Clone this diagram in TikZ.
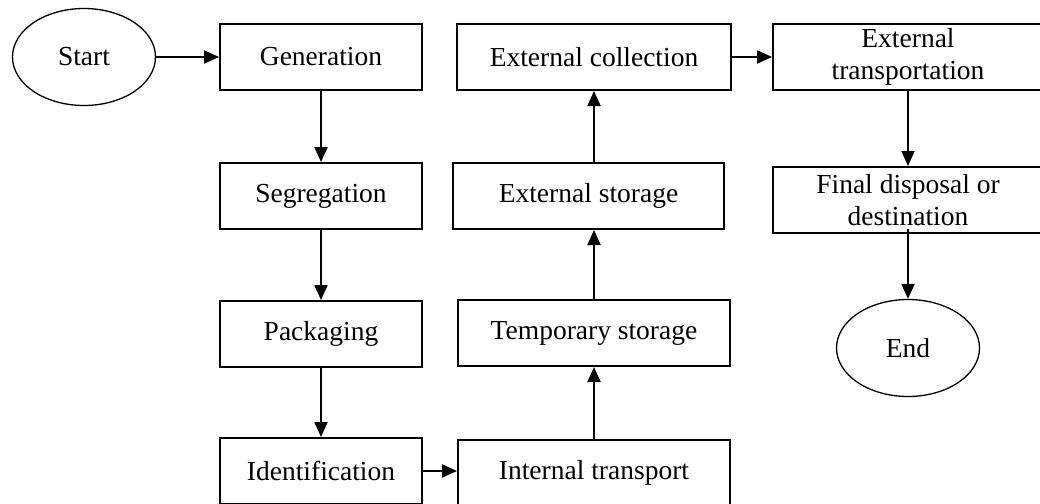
\documentclass[tikz,border=0pt]{standalone}
\usepackage{fontspec}
\setmainfont{Liberation Serif}
\usetikzlibrary{shapes.geometric,arrows.meta}

\begin{document}
\begin{tikzpicture}[x=1pt,y=-1pt,
  stage/.style={rectangle,draw,line width=2pt,minimum height=66pt,inner sep=2pt,align=center,font=\fontsize{27.5}{32}\selectfont},
  terminal/.style={ellipse,draw,line width=1.3pt,minimum width=143pt,minimum height=97pt,inner sep=0pt,font=\fontsize{27.5}{32}\selectfont},
  flow/.style={line width=2pt,-{Triangle[length=15pt,width=13pt]}}]
\useasboundingbox (0,0) rectangle (1040,503);
% start and end
\node[terminal] (start) at (84,57) {Start};
\node[terminal] (end) at (908,348) {End};
% left column
\node[stage,minimum width=202pt] (gen) at (321,57) {Generation};
\node[stage,minimum width=202pt] (seg) at (321,196) {Segregation};
\node[stage,minimum width=202pt] (pack) at (321,334) {Packaging};
\node[stage,minimum width=202pt] (ident) at (321,471) {Identification};
% middle column
\node[stage,minimum width=272pt] (intr) at (594,473) {Internal transport};
\node[stage,minimum width=272pt] (tmpst) at (594,333) {Temporary storage};
\node[stage,minimum width=271pt] (extst) at (588.5,196) {External storage};
\node[stage,minimum width=274pt] (extcol) at (594,57) {External collection};
% right column
\node[stage,minimum width=270pt] (extr) at (908,57) {External\\transportation};
\node[stage,minimum width=270pt] (final) at (908,200) {Final disposal or\\destination};
% connectors
\draw[flow] (start) -- (gen);
\draw[flow] (gen) -- (seg);
\draw[flow] (seg) -- (pack);
\draw[flow] (pack) -- (ident);
\draw[flow] (ident.east) -- (ident.east -| intr.west);
\draw[flow] (intr) -- (tmpst);
\draw[flow] (tmpst.north) -- (tmpst.north |- extst.south);
\draw[flow] (extcol.south |- extst.north) -- (extcol.south);
\draw[flow] (extcol) -- (extr);
\draw[flow] (extr) -- (final);
\draw[flow] ([yshift=5pt]final.south) -- (end);
\end{tikzpicture}
\end{document}
